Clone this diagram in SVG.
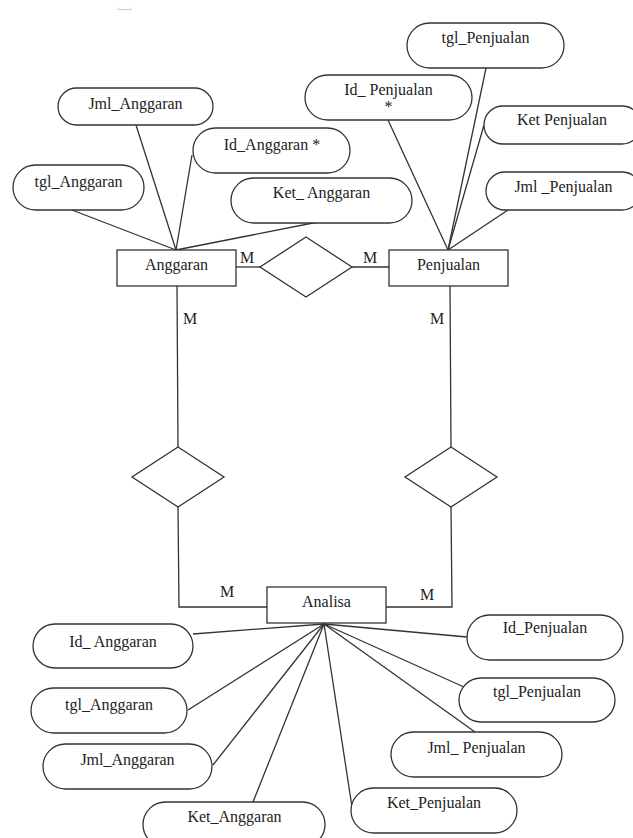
<svg xmlns="http://www.w3.org/2000/svg" width="633" height="838" viewBox="0 0 633 838" font-family="'Liberation Serif', 'Times New Roman', Times, 'DejaVu Serif', serif">
<style>
.s{fill:#fff;stroke:#333;stroke-width:1.3}
.c{fill:none;stroke:#333;stroke-width:1.3}
text{font-family:'Liberation Serif','Times New Roman',Times,'DejaVu Serif',serif;font-size:16px;fill:#222;text-anchor:middle}
text.m{text-anchor:start}
</style>
<rect width="633" height="838" fill="#fff"/>
<path d="M118 7.5 V9.5 H131 V7.5" fill="none" stroke="#ccc" stroke-width="1"/>
<g id="connectors">
<line class="c" x1="236" y1="267" x2="260" y2="267"/>
<line class="c" x1="352" y1="267" x2="389" y2="267"/>
<polyline class="c" points="177,286 178,447"/>
<polyline class="c" points="178,507 179,607 267,607"/>
<polyline class="c" points="450,286 451,447"/>
<polyline class="c" points="451,507 452,607 386,607"/>
<line class="c" x1="136" y1="125" x2="176" y2="250"/>
<line class="c" x1="72" y1="210" x2="176" y2="250"/>
<line class="c" x1="192" y1="155" x2="176" y2="250"/>
<line class="c" x1="318" y1="222" x2="176" y2="250"/>
<line class="c" x1="486" y1="68" x2="448" y2="250"/>
<line class="c" x1="388" y1="120" x2="448" y2="250"/>
<line class="c" x1="484" y1="125" x2="448" y2="250"/>
<line class="c" x1="508" y1="210" x2="448" y2="250"/>
<line class="c" x1="193" y1="634" x2="324" y2="624"/>
<line class="c" x1="188" y1="710" x2="324" y2="624"/>
<line class="c" x1="213" y1="765" x2="324" y2="624"/>
<line class="c" x1="253" y1="802" x2="324" y2="624"/>
<line class="c" x1="467" y1="637" x2="324" y2="624"/>
<line class="c" x1="464" y1="687" x2="324" y2="624"/>
<line class="c" x1="475" y1="732" x2="324" y2="624"/>
<line class="c" x1="352" y1="807" x2="324" y2="624"/>
<text class="m" x="240" y="263">M</text>
<text class="m" x="363" y="263">M</text>
<text class="m" x="183" y="324">M</text>
<text class="m" x="430" y="324">M</text>
<text class="m" x="220" y="597">M</text>
<text class="m" x="420" y="600">M</text>
</g>
<g id="Anggaran"><rect class="s" x="117" y="250" width="119" height="36"/><text x="176.5" y="270">Anggaran</text></g>
<g id="Penjualan"><rect class="s" x="389" y="250" width="119" height="36"/><text x="448.5" y="270">Penjualan</text></g>
<g id="Analisa"><rect class="s" x="267" y="587" width="119" height="36"/><text x="326.5" y="607">Analisa</text></g>
<g id="rel_top"><polygon class="s" points="306,237 352,267 306,297 260,267"/></g>
<g id="rel_left"><polygon class="s" points="178,447 224,477 178,507 132,477"/></g>
<g id="rel_right"><polygon class="s" points="451,447 497,477 451,507 405,477"/></g>
<g id="a_jml"><rect class="s" x="58" y="88" width="155" height="37" rx="18.5"/><text x="135.5" y="109">Jml_Anggaran</text></g>
<g id="a_id"><rect class="s" x="193" y="128" width="157" height="45" rx="22.5"/><text x="272" y="150">Id_Anggaran *</text></g>
<g id="a_tgl"><rect class="s" x="13" y="165" width="131" height="45" rx="22.5"/><text x="78.5" y="187">tgl_Anggaran</text></g>
<g id="a_ket"><rect class="s" x="231" y="178" width="181" height="45" rx="22.5"/><text x="321.5" y="198">Ket_ Anggaran</text></g>
<g id="p_tgl"><rect class="s" x="407" y="23" width="157" height="45" rx="22.5"/><text x="485.5" y="43">tgl_Penjualan</text></g>
<g id="p_id"><rect class="s" x="305" y="75" width="167" height="45" rx="22.5"/><text x="388.5" y="95">Id_ Penjualan</text><text x="388.5" y="112">*</text></g>
<g id="p_ket"><rect class="s" x="484" y="106" width="157" height="38" rx="19"/><text x="562" y="125">Ket Penjualan</text></g>
<g id="p_jml"><rect class="s" x="486" y="172" width="155" height="38" rx="19"/><text x="563.5" y="192">Jml _Penjualan</text></g>
<g id="b_id_a"><rect class="s" x="33" y="624" width="160" height="44" rx="22"/><text x="113" y="647">Id_ Anggaran</text></g>
<g id="b_tgl_a"><rect class="s" x="31" y="688" width="156" height="45" rx="22.5"/><text x="109" y="710">tgl_Anggaran</text></g>
<g id="b_jml_a"><rect class="s" x="43" y="744" width="169" height="45" rx="22.5"/><text x="127.5" y="765">Jml_Anggaran</text></g>
<g id="b_ket_a"><rect class="s" x="143" y="802" width="182" height="45" rx="22.5"/><text x="234.5" y="822">Ket_Anggaran</text></g>
<g id="b_id_p"><rect class="s" x="467" y="615" width="156" height="45" rx="22.5"/><text x="545" y="633">Id_Penjualan</text></g>
<g id="b_tgl_p"><rect class="s" x="459" y="678" width="156" height="44" rx="22"/><text x="537" y="697">tgl_Penjualan</text></g>
<g id="b_jml_p"><rect class="s" x="391" y="732" width="171" height="45" rx="22.5"/><text x="476.5" y="753">Jml_ Penjualan</text></g>
<g id="b_ket_p"><rect class="s" x="351" y="788" width="166" height="45" rx="22.5"/><text x="434" y="808">Ket_Penjualan</text></g>
</svg>
